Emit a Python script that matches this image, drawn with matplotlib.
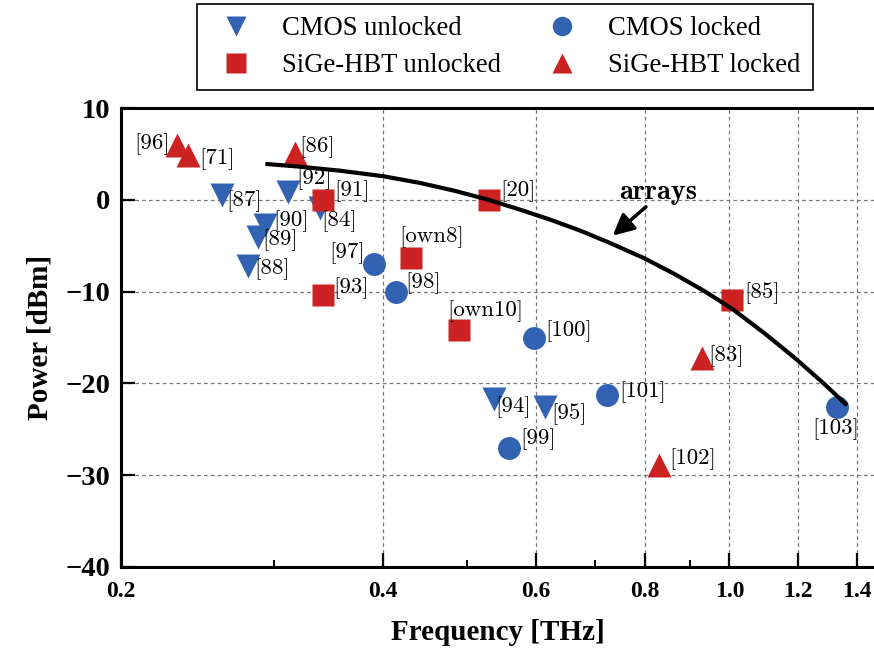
import matplotlib
matplotlib.use('Agg')
import matplotlib.pyplot as plt
from matplotlib.ticker import FixedLocator, FuncFormatter, NullFormatter

plt.rcParams['font.family'] = 'Liberation Serif'
plt.rcParams['font.weight'] = 'bold'

# CMOS unlocked (down triangles)
cmos_unl_f = [0.261, 0.311, 0.339, 0.293, 0.287, 0.280, 0.537, 0.614]
cmos_unl_p = [0.5, 0.9, -0.9, -2.7, -4.0, -7.2, -21.7, -22.6]
cmos_unl_lab = ['[87]', '[92]', '[84]', '[90]', '[89]', '[88]', '[94]', '[95]']

# SiGe-HBT unlocked (squares)
sige_unl_f = [0.341, 0.341, 0.431, 0.489, 0.529, 1.007]
sige_unl_p = [0.0, -10.4, -6.3, -14.2, 0.0, -10.9]
sige_unl_lab = ['[91]', '[93]', '[own8]', '[own10]', '[20]', '[85]']

# CMOS locked (circles)
cmos_lck_f = [0.391, 0.414, 0.596, 0.723, 0.558, 1.33]
cmos_lck_p = [-7.0, -10.0, -15.1, -21.3, -27.0, -22.6]
cmos_lck_lab = ['[97]', '[98]', '[100]', '[101]', '[99]', '[103]']

# SiGe-HBT locked (up triangles)
sige_lck_f = [0.232, 0.239, 0.317, 0.93, 0.83]
sige_lck_p = [6.0, 4.9, 5.1, -17.2, -28.9]
sige_lck_lab = ['[96]', '[71]', '[86]', '[83]', '[102]']

# "arrays" trend line
arr_f = [0.293, 0.321, 0.357, 0.400, 0.441, 0.484, 0.530, 0.575, 0.622, 0.674,
         0.729, 0.798, 0.866, 0.938, 1.010, 1.099, 1.190, 1.278, 1.365]
arr_p = [3.91, 3.61, 3.17, 2.57, 1.84, 0.97, -0.03, -1.08, -2.15, -3.36,
         -4.70, -6.36, -8.11, -10.0, -11.95, -14.59, -17.26, -19.85, -22.38]

xticks = [0.2, 0.4, 0.6, 0.8, 1.0, 1.2, 1.4]
xminor = [0.3, 0.5, 0.7, 0.9]
yticks = [-40, -30, -20, -10, 0, 10]

# label placement: (dx px, dy px, ha)
offs = {
    '[96]': (-7, 1, 'right'), '[71]': (11, -4, 'left'), '[86]': (4, 6, 'left'),
    '[87]': (5, -6, 'left'), '[92]': (8, 12, 'left'), '[91]': (12, 9, 'left'),
    '[84]': (1, -13, 'left'), '[90]': (8, 3, 'left'), '[89]': (5, -4, 'left'),
    '[88]': (6, -3, 'left'), '[97]': (-9, 11, 'right'), '[98]': (9, 8, 'left'),
    '[93]': (11, 7, 'left'), '[own8]': (-12, 21, 'left'), '[own10]': (-12, 19, 'left'),
    '[20]': (12, 9, 'left'), '[100]': (11, 7, 'left'), '[85]': (12, 7, 'left'),
    '[83]': (6, 2, 'left'), '[102]': (10, 6, 'left'), '[94]': (1, -8, 'left'),
    '[95]': (6, -7, 'left'), '[101]': (12, 3, 'left'), '[99]': (11, 9, 'left'),
    '[103]': (-1, -22, 'center'),
}

blue = '#3262b2'
red = '#cc2222'

fig = plt.figure(figsize=(8.74, 6.52), dpi=100)
ax = fig.add_axes([121/874, 85/652, 753/874, 459/652])
ax.set_xscale('log')

ms = 16.5
h1, = ax.plot(cmos_unl_f, cmos_unl_p, 'v', color=blue, ms=ms+0.5, mec='none', label='CMOS unlocked', zorder=3)
h2, = ax.plot(sige_unl_f, sige_unl_p, 's', color=red, ms=ms, mec='none', label='SiGe-HBT unlocked', zorder=3)
h3, = ax.plot(cmos_lck_f, cmos_lck_p, 'o', color=blue, ms=ms, mec='none', label='CMOS locked', zorder=3)
h4, = ax.plot(sige_lck_f, sige_lck_p, '^', color=red, ms=ms+0.5, mec='none', label='SiGe-HBT locked', zorder=3)

ax.plot(arr_f, arr_p, color='black', lw=3, solid_capstyle='butt', solid_joinstyle='round', zorder=4)

for fs, ps, labs in [(cmos_unl_f, cmos_unl_p, cmos_unl_lab), (sige_unl_f, sige_unl_p, sige_unl_lab),
                     (cmos_lck_f, cmos_lck_p, cmos_lck_lab), (sige_lck_f, sige_lck_p, sige_lck_lab)]:
    for f, p, lab in zip(fs, ps, labs):
        dx, dy, ha = offs[lab]
        ax.annotate(lab, (f, p), xytext=(dx, dy), textcoords='offset pixels',
                    ha=ha, va='center', fontsize=16.5, family='cmr10', fontweight='normal', zorder=5)

ax.text(0.828, 0.8, 'arrays', ha='center', va='center', fontsize=20.5, family='cmb10',
        fontweight='normal', zorder=6)
ax.annotate('', xy=(0.7345, -3.9), xytext=(0.802, -0.76),
            arrowprops=dict(arrowstyle='-|>', color='black', lw=2.5, mutation_scale=32,
                            shrinkA=0, shrinkB=0), zorder=6)

ax.set_xlim(0.2, 1.466)
ax.set_ylim(-40, 10)
ax.xaxis.set_major_locator(FixedLocator(xticks))
ax.xaxis.set_minor_locator(FixedLocator(xminor))
ax.xaxis.set_major_formatter(FuncFormatter(lambda v, pos: '%.1f' % v))
ax.xaxis.set_minor_formatter(NullFormatter())
ax.yaxis.set_major_locator(FixedLocator(yticks))
ax.yaxis.set_major_formatter(FuncFormatter(lambda v, pos: ('%d' % v).replace('-', '\u2212')))

ax.tick_params(which='major', direction='in', length=10, width=1.6, top=False, right=False)
ax.tick_params(which='minor', direction='in', length=5, width=1.4, top=False, right=False)
ax.tick_params(axis='x', which='major', pad=10, labelsize=17)
ax.tick_params(axis='y', which='major', pad=8, labelsize=20.5)

ax.grid(True, which='major', ls=(0, (3, 2.5)), color='#787878', lw=0.9)
ax.set_axisbelow(True)
ax.spines['right'].set_visible(False)
for s in ['left', 'bottom', 'top']:
    ax.spines[s].set_linewidth(2.2)

ax.set_xlabel('Frequency [THz]', fontweight='bold', fontsize=21, labelpad=12)
ax.set_ylabel('Power [dBm]', fontweight='bold', fontsize=21, labelpad=8)

leg = fig.legend(handles=[h1, h2, h3, h4], loc='upper center', bbox_to_anchor=(505/874, 1 - 4/652),
                 ncol=2, frameon=True, fancybox=False, edgecolor='black', framealpha=1,
                 prop={'family': 'Liberation Serif', 'size': 19.2, 'weight': 'normal'}, markerscale=0.85,
                 borderpad=0.45, labelspacing=0.45, handlelength=2.0, handletextpad=0.73,
                 columnspacing=1.3, borderaxespad=0)
leg.get_frame().set_linewidth(1.2)

fig.savefig('out.png', dpi=100)
